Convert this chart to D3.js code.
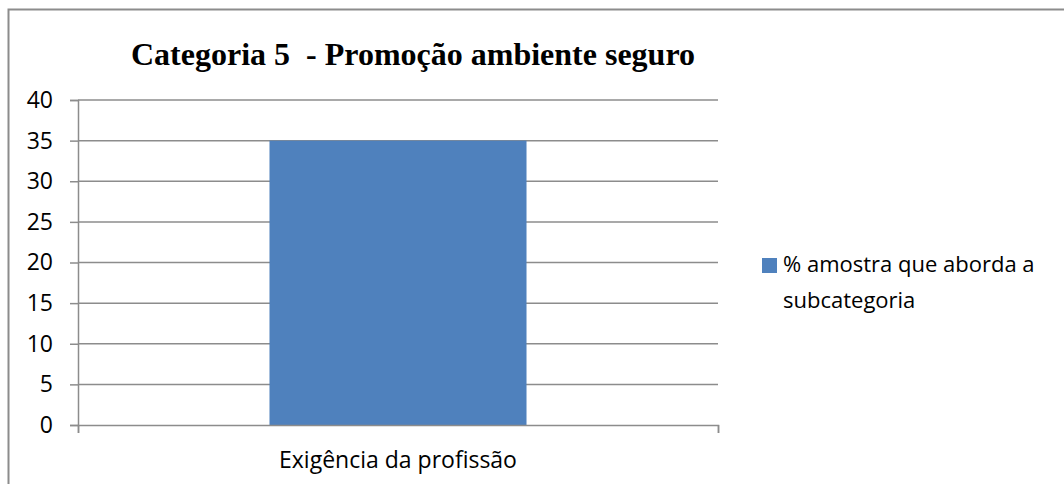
<!DOCTYPE html>
<html>
<head>
<meta charset="utf-8">
<script src="https://cdn.jsdelivr.net/npm/d3@7"></script>
<style>
  body { margin: 0; background: #fff; }
  svg { display: block; }
</style>
</head>
<body>
<svg id="chart" width="1064" height="484"></svg>
<script>
"use strict";

// donnees
var categories = ["Exigência da profissão"];
var values = [35];
var seriesName = ["% amostra que aborda a", "subcategoria"];
var yTicks = [0, 5, 10, 15, 20, 25, 30, 35, 40];
var titre = "Categoria 5  - Promoção ambiente seguro";

var svg = d3.select("#chart");
var gris = "#8c8c8c";
var police = "Open Sans, sans-serif";

// cadre exterieur (coupe a droite et en bas)
svg.append("rect")
  .attr("x", 8.5).attr("y", 9.5)
  .attr("width", 1100).attr("height", 600)
  .attr("fill", "none").attr("stroke", gris).attr("stroke-width", 2);

var x0 = 78, x1 = 718, yTop = 100, yBot = 425;

var y = d3.scaleLinear().domain([0, 40]).range([yBot, yTop]);
var x = d3.scaleBand().domain(categories).range([x0, x1]).paddingInner(0).paddingOuter(0.745);

// grille
svg.append("g").selectAll("line")
  .data(yTicks.filter(function (d) { return d > 0; }))
  .enter().append("line")
  .attr("x1", x0).attr("x2", x1)
  .attr("y1", function (d) { return y(d); })
  .attr("y2", function (d) { return y(d); })
  .attr("stroke", gris).attr("stroke-width", 1.5);

// barres
svg.append("g").selectAll("rect")
  .data(values)
  .enter().append("rect")
  .attr("x", function (d, i) { return x(categories[i]); })
  .attr("width", x.bandwidth())
  .attr("y", function (d) { return y(d); })
  .attr("height", function (d) { return y(0) - y(d); })
  .attr("fill", "#4f81bd");

// axe y
var yAxis = svg.append("g")
  .attr("transform", "translate(" + x0 + ",0)")
  .call(d3.axisLeft(y).tickValues(yTicks).tickSize(8).tickPadding(17));
yAxis.select(".domain").attr("stroke", gris).attr("stroke-width", 1.5);
yAxis.selectAll(".tick line").attr("stroke", gris).attr("stroke-width", 1.5);
yAxis.selectAll("text")
  .attr("font-family", police)
  .attr("font-size", 23).attr("fill", "#000");

// axe x
var xAxis = svg.append("g")
  .attr("transform", "translate(0," + yBot + ")")
  .call(d3.axisBottom(d3.scaleLinear().domain([0, 1]).range([x0, x1]))
    .tickValues([0, 1]).tickSize(8).tickFormat(""));
xAxis.select(".domain").attr("stroke", gris).attr("stroke-width", 1.5);
xAxis.selectAll(".tick line").attr("stroke", gris).attr("stroke-width", 1.5);

svg.append("g").selectAll("text")
  .data(categories)
  .enter().append("text")
  .attr("x", function (d) { return x(d) + x.bandwidth() / 2; })
  .attr("y", 468)
  .attr("text-anchor", "middle")
  .attr("font-family", police)
  .attr("font-size", 23)
  .text(function (d) { return d; });

// titre
svg.append("text")
  .attr("x", 413).attr("y", 65)
  .attr("text-anchor", "middle")
  .attr("font-family", "Liberation Serif, Times New Roman, serif")
  .attr("font-weight", "bold")
  .attr("font-size", 32)
  .style("white-space", "pre")
  .text(titre);

// legende
var legende = svg.append("g").attr("class", "legend");
legende.append("rect")
  .attr("x", 762).attr("y", 258)
  .attr("width", 15).attr("height", 15)
  .attr("fill", "#4f81bd");
legende.selectAll("text")
  .data(seriesName)
  .enter().append("text")
  .attr("x", 783)
  .attr("y", function (d, i) { return 272 + 36 * i; })
  .attr("font-family", police)
  .attr("font-size", 22)
  .text(function (d) { return d; });
</script>
</body>
</html>
